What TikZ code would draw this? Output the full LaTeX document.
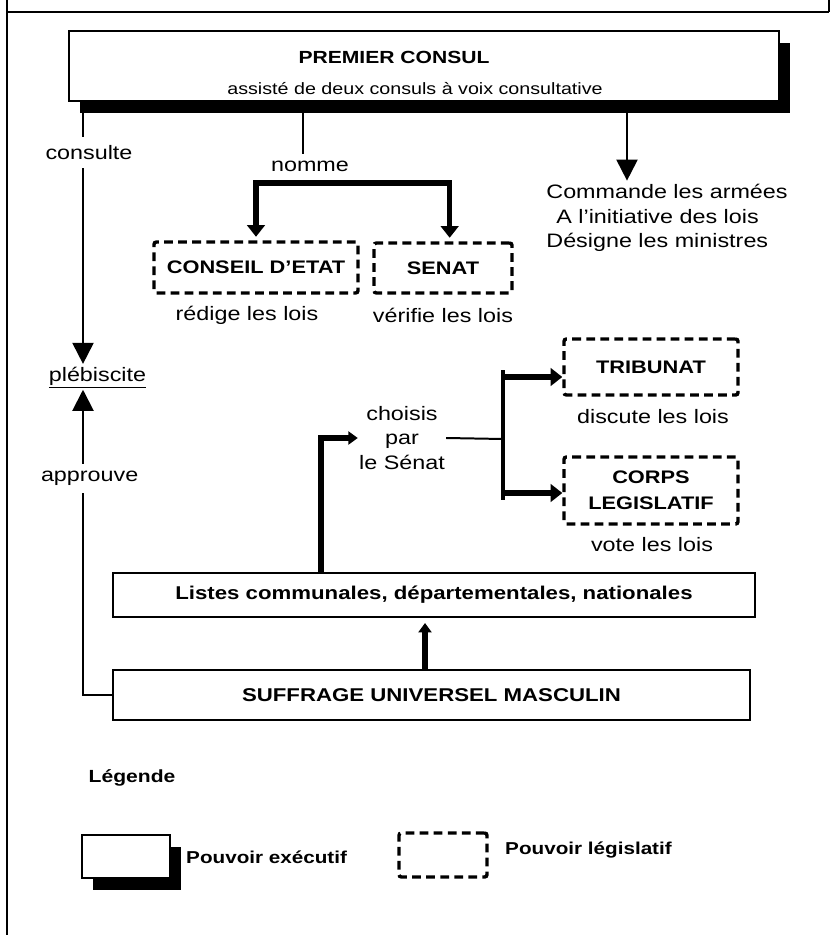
\documentclass[tikz,border=0pt]{standalone}
\usepackage{fontspec}
\setmainfont{Liberation Sans}[FakeStretch=1.2]
\usetikzlibrary{arrows.meta,shadows}

\begin{document}
\begin{tikzpicture}[x=0.03cm,y=-0.03cm,
  exebox/.style={draw, line width=1.8pt, fill=white, inner sep=0pt,
    drop shadow={shadow xshift=0.33cm, shadow yshift=-0.35cm, opacity=1, fill=black}},
  legbox/.style={draw, line width=2.9pt, dash pattern=on 7.5pt off 4.5pt, rounded corners=2pt,
    inner sep=0pt, align=center, font=\bfseries\fontsize{15.5}{22}\selectfont},
  listbox/.style={draw, line width=2.2pt, fill=white, inner sep=0pt, font=\bfseries\fontsize{15.8}{19}\selectfont},
  txt/.style={inner sep=1pt, align=center, font=\fontsize{16.6}{20.8}\selectfont},
  legtxt/.style={inner sep=0pt, anchor=west, font=\bfseries\fontsize{14.7}{17}\selectfont},
  fineline/.style={line width=1.7pt},
  bigtip/.style={-{Triangle[width=18pt,length=18pt]}, line width=1.7pt},
  fattip/.style={-{Triangle[width=15pt,length=10pt]}, line width=4.5pt},
  smalltip/.style={-{Triangle[width=11pt,length=8pt]}, line width=4.5pt}]

\useasboundingbox (0,0) rectangle (834,935);

%draw the frame
\draw[line width=1.8pt] (7,0) -- (7,935);
\draw[line width=1.8pt] (7,12) -- (829,12);
\draw[line width=1.8pt] (829,0) -- (829,12);

%draw the premier consul
\node[exebox, minimum width=21.3cm, minimum height=2.1cm] (premier) at (424,66) {};
\node[inner sep=0pt, font=\bfseries\fontsize{15}{18}\selectfont] (pctitle) at (394,57) {PREMIER CONSUL};
\node[inner sep=0pt, font=\fontsize{14}{16}\selectfont] (pcsub) at (415,89) {assisté de deux consuls à voix consultative};

%draw the legislative boxes
\node[legbox, minimum width=6.12cm, minimum height=1.53cm] (conseil) at (256,267.5) {CONSEIL D'ETAT};
\node[legbox, minimum width=4.14cm, minimum height=1.5cm] (senat) at (443,268) {SENAT};
\node[legbox, minimum width=5.22cm, minimum height=1.68cm] (tribunat) at (651,367) {TRIBUNAT};
\node[legbox, minimum width=5.22cm, minimum height=2.01cm] (corps) at (651,490.5) {CORPS\\LEGISLATIF};

\node[txt] (redige) at (247,315) {rédige les lois};
\node[txt] (verifie) at (443,315) {vérifie les lois};
\node[txt] (discute) at (653,417) {discute les lois};
\node[txt] (vote) at (652,545) {vote les lois};
\node[txt, align=left, anchor=north west] (cmd) at (545,183) {Commande les armées\\\hspace*{0.3cm}A l'initiative des lois\\Désigne les ministres};
\node[txt] (pleb) at (97.5,378) {\underline{plébiscite}};
\node[txt] (choisis) at (402,438) {choisis\\par\\le Sénat};

%draw the lists and the suffrage
\node[listbox, minimum width=19.26cm, minimum height=1.32cm] (listes) at (434,595) {Listes communales, départementales, nationales};
\node[listbox, minimum width=19.11cm, minimum height=1.5cm] (suffrage) at (431.5,695) {SUFFRAGE UNIVERSEL MASCULIN};

%draw the arrows
\coordinate (xcons) at (83,0);
\coordinate (xnom) at (303,0);
\coordinate (xcmd) at (627,0);
\coordinate (xcho) at (321,0);
\coordinate (xsuf) at (425,0);
\coordinate (nombar) at (303,183);
\coordinate (brtop) at (503,377);
\coordinate (brmid) at (503,439);
\coordinate (brbot) at (503,493);

\draw[bigtip, shorten >=2pt] (premier.south -| xcons) -- node[txt, fill=white, inner ysep=7pt, pos=0.19, xshift=0.18cm] (consulte) {consulte} (pleb.north -| xcons);
\draw[bigtip] (suffrage.west) -| node[txt, fill=white, inner ysep=6pt, pos=0.855, xshift=0.2cm] (approuve) {approuve} (pleb.south -| xcons);

\draw[fineline] (premier.south -| xnom) -- ++(0,52) coordinate (nomend);
\node[txt] (nomme) at (310,166) {nomme};
\draw[fattip, shorten >=3pt] (nombar) -| (conseil.north);
\draw[fattip, shorten >=3pt] (nombar) -| ([xshift=0.2cm]senat.north);

\draw[bigtip, shorten >=2pt] (premier.south -| xcmd) -- (cmd.north -| xcmd);

\draw[smalltip] (listes.north -| xcho) |- (choisis.west);
\draw[fineline] (choisis.east) -- (brmid);
\draw[line width=2.6pt] (503,370) -- (503,500);
\draw[fattip] (brtop) -- (brtop -| tribunat.west);
\draw[fattip] (brbot) -- (brbot -| corps.west);

\draw[smalltip, shorten >=4pt] (suffrage.north -| xsuf) -- (listes.south -| xsuf);

%draw the legend
\node[inner sep=0pt, font=\bfseries\fontsize{15}{18}\selectfont] (legende) at (132,778) {Légende};
\node[exebox, minimum width=2.64cm, minimum height=1.29cm] (legexe) at (126,856.5) {};
\node[legtxt] (legexetxt) at (186,857) {Pouvoir exécutif};
\node[legbox, minimum width=2.64cm, minimum height=1.32cm] (leglegis) at (443,855) {};
\node[legtxt] (leglegistxt) at (505,850) {Pouvoir législatif};

\end{tikzpicture}
\end{document}
